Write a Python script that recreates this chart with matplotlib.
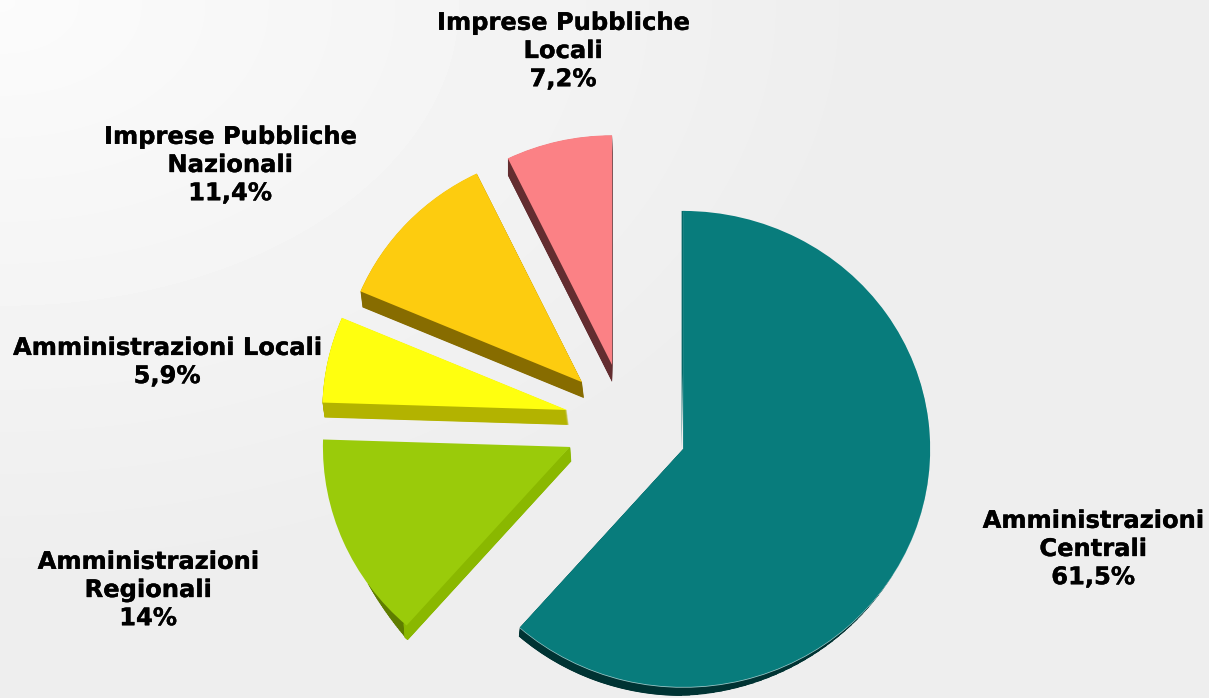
import numpy as np
import matplotlib
matplotlib.use('Agg')
import matplotlib.pyplot as plt
import matplotlib.patheffects as pe

# Spesa per comparto
values = [61.5, 14, 5.9, 11.4, 7.2]
names = ["Amministrazioni\nCentrali", "Amministrazioni\nRegionali", "Amministrazioni Locali",
         "Imprese Pubbliche\nNazionali", "Imprese Pubbliche\nLocali"]
pct_labels = ["61,5%", "14%", "5,9%", "11,4%", "7,2%"]

top_colors = ['#087c7c', '#9acb0a', '#ffff0f', '#fdcc0f', '#fb8185']
side_colors = ['#003333', '#8ab800', '#b3b300', '#876c00', '#632d30']
side_shift = [(-1, 9), (1, 14), (2, 15), (2, 16), (0, 17)]  # px, extrusion of each slice
nudge = [(2, 2.5), (0, -2), (0.5, -3.6), (0.5, -4), (0.5, -4.7)]  # px, perspective correction
radius = [1, 1, 0.99, 0.975, 0.965]
label_pos = [(1093, 549), (148, 590), (167, 362), (230, 165), (563, 51)]

W, H = 1209, 698
RX, RY = 247, 238
CX, CY = 625, 426
EXPLODE = 60 / RX

fig = plt.figure(figsize=(W / 100, H / 100), dpi=100)
ax = fig.add_axes([0, 0, 1, 1])

# sfondo chiaro, piu' bianco in alto a sinistra
yy, xx = np.mgrid[0:H:70j, 0:W:120j]
dist = np.clip(np.hypot(xx / 900, yy / 600), 0, 1)
bg = 0.985 - 0.055 * dist
bg_ax = fig.add_axes([0, 0, 1, 1], zorder=-1)
bg_ax.imshow(bg, cmap='gray', vmin=0, vmax=1, aspect='auto', interpolation='bilinear')
bg_ax.axis('off')


def draw_pie(colors, shifts=None):
    wedges, _ = ax.pie(values, explode=[EXPLODE] * len(values), colors=colors, startangle=90,
                       counterclock=False, radius=1, wedgeprops={'linewidth': 0})
    for i, w in enumerate(wedges):
        dx, dy = nudge[i]
        if shifts is not None:
            dx += shifts[i][0]
            dy += shifts[i][1]
        cx, cy = w.center
        w.set_center((cx + dx / RX, cy - dy / RY))
        w.set_radius(radius[i])
    return wedges


# spessore 3D: copie scure spostate, dalla piu' profonda alla superficie
for t in np.linspace(1, 0.03, 32):
    w = draw_pie(side_colors, [(dx * t, dy * t) for dx, dy in side_shift])
    # il bordo del settore grande si assottiglia verso destra
    w[0].set_theta1(-131.4)
    w[0].set_theta2(-30 - 60 * t)
    # arco scuro solo vicino alla punta del settore verde, anch'esso sfumato
    w[1].set_facecolor('#5f7d00')
    w[1].set_theta1(w[1].theta2 - (1 + 13 * (1 - t)))
    w[1].set_width(0.12)

# faccia piana del settore verde
for t in np.linspace(1, 0.03, 32):
    w = draw_pie(side_colors, [(dx * t, dy * t) for dx, dy in side_shift])
    for i in (0, 2, 3, 4):
        w[i].set_visible(False)
    w[1].set_theta1(w[1].theta2 - 0.8)
    w[1].set_edgecolor(side_colors[1])
    w[1].set_linewidth(0.8)

# filo verticale sul lato sinistro del settore grande
w = draw_pie(['#056868'] * len(values), [(-1.5, 0)] * len(values))
for i in range(1, len(values)):
    w[i].set_visible(False)
w[0].set_theta1(w[0].theta2 - 1)

# filo chiaro sul bordo inferiore del settore grande
w = draw_pie(['#9cc8c8'] + top_colors[1:], [(0, 0.8), (0, 0), (0, 0), (0, 0), (0, 0)])
for i in range(1, len(values)):
    w[i].set_visible(False)
draw_pie(top_colors)

ax.set_aspect('auto')
ax.set_xlim(-CX / RX, (W - CX) / RX)
ax.set_ylim(-(H - CY) / RY, CY / RY)
ax.patch.set_alpha(0)

for name, pct, (x, y) in zip(names, pct_labels, label_pos):
    fig.text(x / W, 1 - y / H, name + "\n" + pct, ha='center', va='center', ma='center',
             fontsize=17.4, fontweight='bold', family='DejaVu Sans', color='black', linespacing=1.22,
             path_effects=[pe.withStroke(linewidth=0.25, foreground='black')])

fig.savefig('out.png', dpi=100)
